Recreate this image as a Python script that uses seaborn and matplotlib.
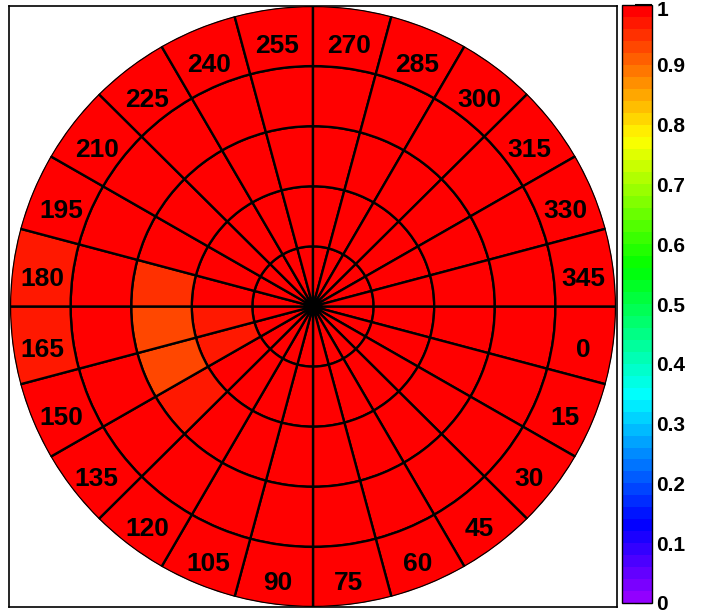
import colorsys
import numpy as np
import matplotlib
matplotlib.use("Agg")
import matplotlib.pyplot as plt
from matplotlib.colors import ListedColormap, Normalize
from matplotlib.cm import ScalarMappable
from matplotlib.transforms import ScaledTranslation
import seaborn as sns

# ---------------- data ----------------
angle_labels = ["0", "15", "30", "45", "60", "75", "90", "105", "120", "135",
                "150", "165", "180", "195", "210", "225", "240", "255", "270",
                "285", "300", "315", "330", "345"]

# one list per radial ring (inner -> outer), 24 angular bins each
ring_1 = [1.0, 1.0, 1.0, 1.0, 1.0, 1.0, 1.0, 1.0, 1.0, 1.0, 1.0, 1.0,
          1.0, 1.0, 1.0, 1.0, 1.0, 1.0, 1.0, 1.0, 1.0, 1.0, 1.0, 1.0]
ring_2 = [1.0, 1.0, 1.0, 1.0, 1.0, 1.0, 1.0, 1.0, 1.0, 1.0, 0.975, 0.975,
          1.0, 1.0, 1.0, 1.0, 1.0, 1.0, 1.0, 1.0, 1.0, 1.0, 1.0, 1.0]
ring_3 = [1.0, 1.0, 1.0, 1.0, 1.0, 1.0, 1.0, 1.0, 1.0, 0.975, 0.935, 0.935,
          0.955, 1.0, 1.0, 1.0, 1.0, 1.0, 1.0, 1.0, 1.0, 1.0, 1.0, 1.0]
ring_4 = [1.0, 1.0, 1.0, 1.0, 1.0, 1.0, 1.0, 1.0, 1.0, 1.0, 1.0, 1.0,
          1.0, 1.0, 1.0, 1.0, 1.0, 1.0, 1.0, 1.0, 1.0, 1.0, 1.0, 1.0]
ring_5 = [1.0, 1.0, 1.0, 1.0, 1.0, 1.0, 1.0, 1.0, 1.0, 1.0, 1.0, 0.975,
          0.975, 1.0, 1.0, 1.0, 1.0, 1.0, 1.0, 1.0, 1.0, 1.0, 1.0, 1.0]

cbar_ticks = [0.0, 0.1, 0.2, 0.3, 0.4, 0.5, 0.6, 0.7, 0.8, 0.9, 1.0]
cbar_labels = ["0", "0.1", "0.2", "0.3", "0.4", "0.5", "0.6", "0.7", "0.8", "0.9", "1"]

# ---------------- style ----------------
sns.set_style("white")
plt.rcParams['font.family'] = ['Liberation Sans', 'DejaVu Sans']

# ROOT "pretty palette": 50 HLS colours, hue 280 -> 0
n_colors = 50
pal = [colorsys.hls_to_rgb((280.0 - (i + 1) * 280.0 / n_colors) / 360.0, 0.5, 1.0)
       for i in range(n_colors)]
cmap = ListedColormap(sns.color_palette(pal, n_colors=n_colors))
norm = Normalize(vmin=0.0, vmax=1.0)

W, H = 705, 613
fig = plt.figure(figsize=(W / 100, H / 100), dpi=100)

# rectangular frame
frame = fig.add_axes([9 / W, 6 / H, 608 / W, 601 / H])
frame.set_xticks([])
frame.set_yticks([])
frame.set_facecolor('white')
for s in frame.spines.values():
    s.set_linewidth(1.2)
    s.set_color('black')

# polar plot
ax = fig.add_axes([10 / W, 6 / H, 606 / W, 601 / H], projection='polar')
ax.set_aspect('auto')
ax.set_theta_zero_location('E')
ax.set_theta_direction(-1)
ax.patch.set_alpha(0)

rings = [ring_1, ring_2, ring_3, ring_4, ring_5]
n_sectors = len(angle_labels)
width = 2 * np.pi / n_sectors
centers = np.arange(n_sectors) * width + width / 2
for i, ring in enumerate(rings):
    ax.bar(centers, 1, width=width, bottom=i, align='center',
           color=cmap(norm(np.array(ring))), edgecolor='black', linewidth=1.7)

ax.set_ylim(0, len(rings))
ax.grid(False)
ax.set_xticks([])
ax.set_yticks([])
ax.spines['polar'].set_visible(False)

label_shift = ScaledTranslation(0, -8 / 100, fig.dpi_scale_trans)
for c, lab in zip(centers, angle_labels):
    ax.text(c, len(rings) - 0.5, lab, ha='center', va='center',
            fontsize=19, fontweight='bold', color='black',
            transform=ax.transData + label_shift)

# colour bar
cax = fig.add_axes([622 / W, 10 / H, 30 / W, 598 / H])
cb = fig.colorbar(ScalarMappable(norm=norm, cmap=cmap), cax=cax)
cb.set_ticks(cbar_ticks, labels=cbar_labels)
cb.outline.set_linewidth(1.0)
cb.outline.set_edgecolor('black')
cax.tick_params(direction='in', length=12, width=1.5, labelsize=15, pad=3, colors='black')
ticklabels = cax.get_yticklabels()
for t in ticklabels:
    t.set_fontweight('bold')
# keep the top label fully inside the picture
ticklabels[-1].set_verticalalignment('top')
ticklabels[-1].set_transform(ticklabels[-1].get_transform() +
                             ScaledTranslation(0, 4 / 100, fig.dpi_scale_trans))

fig.savefig("out.png", dpi=100)
